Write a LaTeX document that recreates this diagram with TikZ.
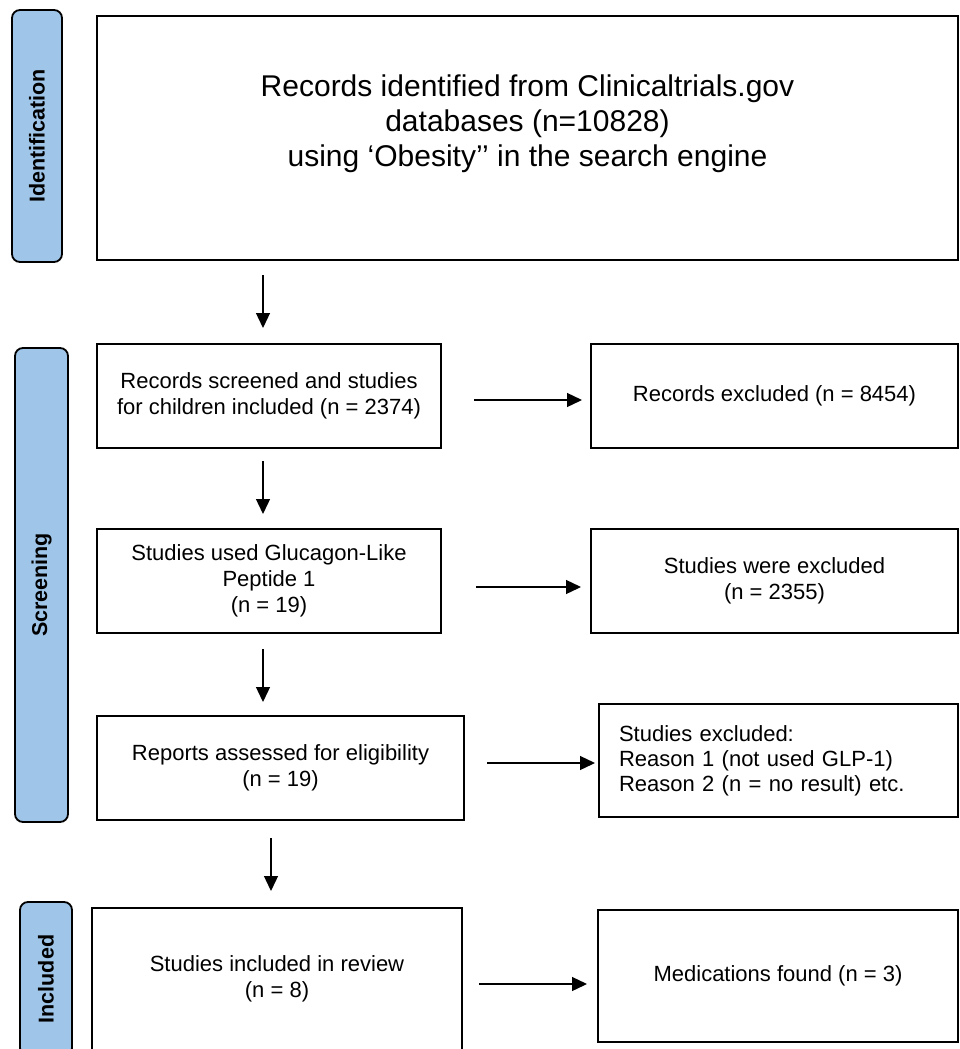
\documentclass[tikz,border=0pt]{standalone}
\usepackage{fontspec}
\setmainfont{Liberation Sans}
\usetikzlibrary{arrows.meta}
\definecolor{stageblue}{RGB}{159,197,232}

\begin{document}
\begin{tikzpicture}[x=1pt,y=-1pt,
    box/.style={draw,line width=2pt,align=center,inner sep=0pt,
      font=\fontsize{22}{26}\selectfont},
    stage/.style={draw,line width=1.8pt,fill=stageblue,rounded corners=8pt,
      rotate=90,inner sep=0pt,font=\bfseries\fontsize{21.5}{26}\selectfont},
    arr/.style={-{Triangle[length=15pt,width=14pt]},line width=1.3pt}]
  \useasboundingbox (0,0) rectangle (959,1049);
  \draw
    (37,136) node[stage,minimum width=252pt,minimum height=50pt] (s1){Identification}
    (41.5,585) node[stage,minimum width=474pt,minimum height=53pt] (s2){Screening}
    (46,979) node[stage,minimum width=154pt,minimum height=52pt] (s3){Included}
    (527.5,138) node[box,minimum width=861pt,minimum height=244pt] (id){}
    (269,396) node[box,minimum width=344pt,minimum height=104pt] (scr){Records screened and studies\\for children included (n = 2374)}
    (774.5,396) node[box,minimum width=367pt,minimum height=104pt] (ex1){Records excluded (n = 8454)}
    (269,581) node[box,minimum width=344pt,minimum height=104pt] (glp){Studies used Glucagon-Like\\Peptide 1\\(n = 19)}
    (774.5,581) node[box,minimum width=367pt,minimum height=104pt] (ex2){Studies were excluded\\(n = 2355)}
    (280.5,768) node[box,minimum width=367pt,minimum height=104pt] (rep){Reports assessed for eligibility\\(n = 19)}
    (778.5,760.5) node[box,align=left,text width=319pt,inner xsep=20pt,minimum height=113pt,
      font=\fontsize{22}{25}\selectfont] (ex3){Studies excluded:\\Reason 1 (not used GLP-1)\\Reason 2 (n = no result) etc.}
    (277,979) node[box,minimum width=370pt,minimum height=142pt] (inc){Studies included in review\\(n = 8)}
    (778,976) node[box,minimum width=360pt,minimum height=132pt] (med){Medications found (n = 3)};
  \node[align=center,font=\fontsize{30}{35}\selectfont] (idtext) at ([yshift=14pt]id.center)
    {Records identified from Clinicaltrials.gov\\databases (n=10828)\\using ‘Obesity’’ in the search engine};
  \begin{scope}[arr]
    \draw[shorten <=14pt,shorten >=15pt] ([xshift=-6pt]scr.north |- id.south) to ([xshift=-6pt]scr.north);
    \draw[shorten <=12pt,shorten >=14pt] ([xshift=-6pt]scr.south) to ([xshift=-6pt]glp.north);
    \draw[shorten <=15pt,shorten >=13pt] ([xshift=-6pt]glp.south) to ([xshift=-6pt]glp.south |- rep.north);
    \draw[shorten <=17pt,shorten >=16pt] ([xshift=-9.5pt]rep.south) to ([xshift=-9.5pt]rep.south |- inc.north);
    \draw[shorten <=32pt,shorten >=8pt] ([yshift=-4pt]scr.east) to ([yshift=-4pt]ex1.west);
    \draw[shorten <=34pt,shorten >=9pt] ([yshift=-6pt]glp.east) to ([yshift=-6pt]ex2.west);
    \draw[shorten <=22pt,shorten >=3pt] ([yshift=5pt]rep.east) to ([yshift=-2.5pt]ex3.west);
    \draw[shorten <=16pt,shorten >=10pt] ([yshift=-5pt]inc.east) to ([yshift=-8pt]med.west);
  \end{scope}
\end{tikzpicture}
\end{document}
